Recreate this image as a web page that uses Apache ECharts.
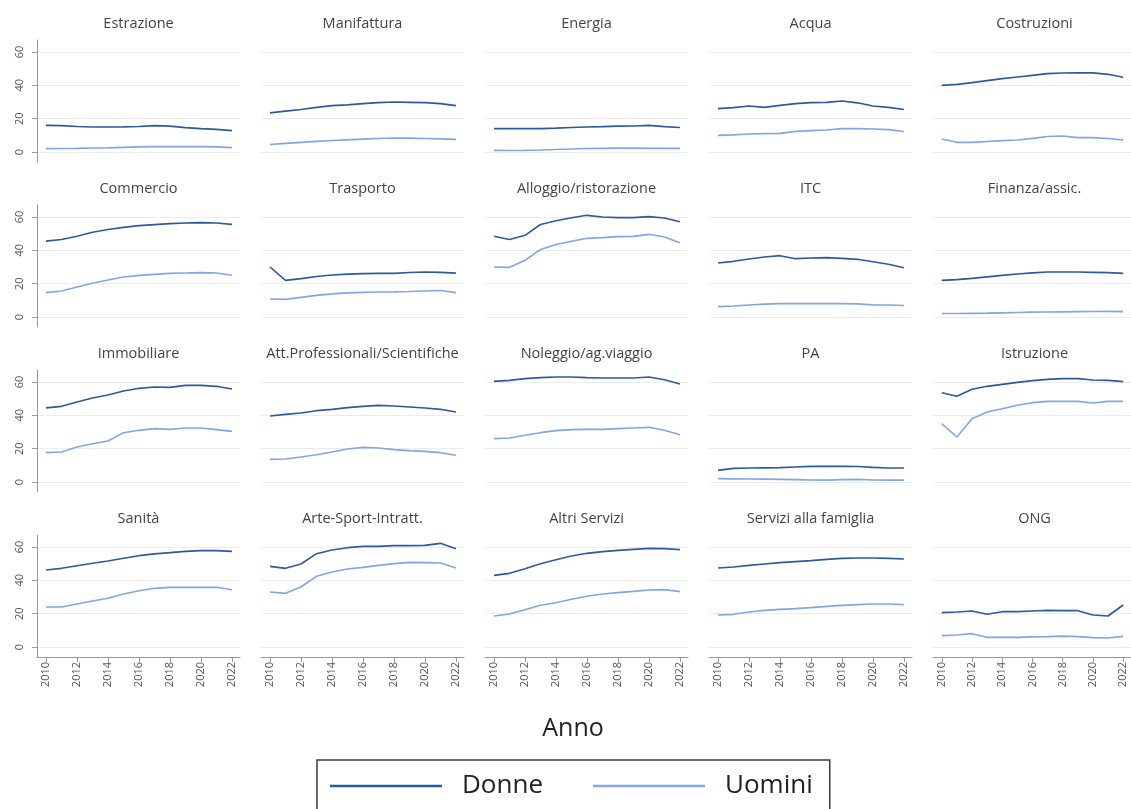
<!DOCTYPE html>
<html>
<head>
<meta charset="utf-8">
<script src="https://cdn.jsdelivr.net/npm/echarts@6/dist/echarts.min.js"></script>
<style>
  html, body { margin: 0; padding: 0; background: #ffffff; }
  #chart { width: 1131px; height: 809px; }
</style>
</head>
<body>
<div id="chart"></div>
<script>
// Years on the horizontal axis
const years = [2010, 2011, 2012, 2013, 2014, 2015, 2016, 2017, 2018, 2019, 2020, 2021, 2022];

// Sector panels, row by row
const sectors = [
  'Estrazione', 'Manifattura', 'Energia', 'Acqua', 'Costruzioni',
  'Commercio', 'Trasporto', 'Alloggio/ristorazione', 'ITC', 'Finanza/assic.',
  'Immobiliare', 'Att.Professionali/Scientifiche', 'Noleggio/ag.viaggio', 'PA', 'Istruzione',
  'Sanità', 'Arte-Sport-Intratt.', 'Altri Servizi', 'Servizi alla famiglia', 'ONG'
];

// Women, one row per sector (same order as sectors)
const donne = [
  [16, 15.8, 15.3, 15, 15, 15.1, 15.3, 15.8, 15.5, 14.6, 14, 13.6, 12.8],
  [23.5, 24.5, 25.5, 26.8, 27.8, 28.3, 29, 29.6, 30, 29.8, 29.6, 29, 27.8],
  [14, 14, 14, 14, 14.3, 14.7, 15, 15.2, 15.5, 15.6, 16, 15.2, 14.7],
  [26, 26.6, 27.6, 26.8, 28, 29, 29.6, 29.8, 30.6, 29.5, 27.6, 26.8, 25.5],
  [40, 40.6, 41.6, 42.8, 44, 45, 46, 47, 47.4, 47.5, 47.5, 46.6, 44.8],
  [45.5, 46.5, 48.5, 50.8, 52.5, 53.8, 54.8, 55.4, 56, 56.4, 56.6, 56.4, 55.6],
  [30, 22, 23, 24.3, 25.2, 25.7, 26, 26.2, 26.2, 26.7, 27, 26.8, 26.3],
  [48.5, 46.5, 49, 55.5, 57.8, 59.5, 61, 60, 59.6, 59.6, 60.2, 59.4, 57.2],
  [32.4, 33.4, 34.8, 36, 36.8, 35, 35.4, 35.6, 35.2, 34.6, 33.2, 31.6, 29.6],
  [22, 22.4, 23.2, 24.1, 25, 25.8, 26.5, 27, 27, 27, 26.8, 26.6, 26.2],
  [44.5, 45.4, 48, 50.4, 52.2, 54.6, 56.2, 57, 56.8, 58, 58, 57.4, 55.8],
  [39.6, 40.6, 41.4, 42.8, 43.6, 44.6, 45.4, 46, 45.6, 45, 44.4, 43.6, 42],
  [60.4, 61, 62, 62.6, 63, 63, 62.6, 62.4, 62.4, 62.4, 63, 61.4, 58.8],
  [7, 8.2, 8.4, 8.5, 8.6, 9, 9.4, 9.4, 9.4, 9.3, 8.8, 8.4, 8.4],
  [53.6, 51.4, 55.6, 57.4, 58.6, 59.8, 60.8, 61.6, 62, 62, 61.2, 61, 60.2],
  [46.2, 47.2, 48.8, 50.2, 51.6, 53.2, 54.8, 55.9, 56.6, 57.4, 57.8, 57.8, 57.4],
  [48.4, 47.2, 49.8, 56, 58.2, 59.6, 60.4, 60.4, 60.8, 60.8, 61, 62.2, 59],
  [43, 44.2, 47, 50, 52.4, 54.6, 56.2, 57.2, 58, 58.6, 59.2, 59, 58.4],
  [47.4, 48, 49, 49.8, 50.6, 51.2, 51.8, 52.6, 53.2, 53.4, 53.4, 53.2, 52.8],
  [20.6, 21, 21.6, 19.6, 21.2, 21.2, 21.6, 22, 21.8, 21.8, 19.2, 18.6, 25.2]
];

// Men, one row per sector (same order as sectors)
const uomini = [
  [2, 2.1, 2.2, 2.4, 2.5, 2.8, 3.1, 3.2, 3.3, 3.2, 3.2, 3.1, 2.6],
  [4.5, 5.2, 5.8, 6.4, 6.9, 7.3, 7.7, 8.1, 8.4, 8.3, 8.1, 7.9, 7.6],
  [1, 0.9, 1, 1.2, 1.5, 1.8, 2.1, 2.2, 2.3, 2.3, 2.2, 2.2, 2.2],
  [10, 10.3, 10.8, 11, 11.2, 12.4, 12.8, 13.2, 14, 14, 13.8, 13.4, 12.3],
  [7.8, 5.8, 5.8, 6.3, 6.8, 7.2, 8.2, 9.3, 9.6, 8.6, 8.6, 8.1, 7.2],
  [14.6, 15.6, 18, 20.2, 22.2, 24, 25, 25.6, 26.2, 26.4, 26.6, 26.4, 25],
  [10.8, 10.6, 11.8, 13, 13.9, 14.5, 14.8, 15, 15.1, 15.3, 15.6, 15.9, 14.6],
  [30, 29.8, 34, 40.5, 43.5, 45.5, 47.2, 47.6, 48.2, 48.4, 49.6, 48, 44.6],
  [6.2, 6.6, 7.2, 7.7, 8, 8, 8, 8, 8, 7.9, 7.3, 7.2, 6.9],
  [2.1, 2.1, 2.2, 2.3, 2.5, 2.7, 2.9, 3, 3.1, 3.2, 3.3, 3.4, 3.2],
  [17.6, 18, 21, 23, 24.6, 29.6, 31, 32, 31.6, 32.4, 32.4, 31.4, 30.4],
  [13.6, 13.8, 15, 16.4, 18, 19.8, 20.8, 20.4, 19.4, 18.8, 18.4, 17.6, 16],
  [26, 26.4, 28, 29.6, 30.8, 31.4, 31.6, 31.6, 32, 32.4, 32.8, 31, 28.4],
  [2, 1.9, 1.8, 1.7, 1.6, 1.4, 1.2, 1.1, 1.4, 1.6, 1.2, 1.1, 1.1],
  [35, 27, 38, 42, 44, 46, 47.6, 48.4, 48.4, 48.4, 47.4, 48.4, 48.4],
  [24, 24, 25.8, 27.6, 29.2, 31.8, 33.8, 35.2, 35.8, 35.8, 35.8, 35.8, 34.4],
  [33, 32.2, 36, 42.4, 45, 46.8, 47.8, 49, 50, 50.8, 50.6, 50.4, 47.4],
  [18.6, 19.8, 22.4, 25, 26.6, 28.6, 30.4, 31.8, 32.6, 33.4, 34.2, 34.4, 33.2],
  [19.2, 19.6, 21, 22, 22.6, 23, 23.6, 24.4, 25, 25.4, 25.8, 25.8, 25.4],
  [6.8, 7.2, 8, 5.8, 5.8, 5.8, 6.1, 6.2, 6.5, 6.2, 5.6, 5.4, 6.4]
];

// Tick positions and legend entries
const yTicks = [0, 20, 40, 60];
const xTicks = [2010, 2012, 2014, 2016, 2018, 2020, 2022];
const seriesNames = ['Donne', 'Uomini'];
const seriesColors = ['#2c5aa0', '#7fa6e6'];
const xAxisTitle = 'Anno';

const FONT = '"Open Sans", "DejaVu Sans", sans-serif';
const COLS = 5, ROWS = 4;
const PANEL_W = 203, PANEL_H = 122;
const AXIS_GRAY = '#9a9a9a';
const LABEL_GRAY = '#555555';

const grids = [], xAxes = [], yAxes = [], series = [], titles = [];

sectors.forEach((name, i) => {
  const r = Math.floor(i / COLS);
  const c = i % COLS;
  const left = 37 + 224 * c;
  const top = 40 + 165 * r;
  const bottomRow = r === ROWS - 1;
  const firstCol = c === 0;

  grids.push({ left: left, top: top, width: PANEL_W, height: PANEL_H });

  xAxes.push({
    type: 'value', gridIndex: i, min: 2009.42, max: 2022.52,
    axisLine: { show: bottomRow, onZero: false, lineStyle: { color: AXIS_GRAY, width: 1 } },
    axisTick: { show: bottomRow, customValues: xTicks, length: 5, lineStyle: { color: AXIS_GRAY } },
    axisLabel: {
      show: bottomRow, customValues: xTicks, rotate: 90, margin: 5,
      fontSize: 11, color: LABEL_GRAY, fontFamily: FONT,
      formatter: (v) => String(Math.round(v))
    },
    splitLine: { show: false }
  });

  yAxes.push({
    type: 'value', gridIndex: i, min: -6, max: 67.2,
    axisLine: { show: firstCol, onZero: false, lineStyle: { color: AXIS_GRAY, width: 1 } },
    axisTick: { show: firstCol, customValues: yTicks, length: 5, lineStyle: { color: AXIS_GRAY } },
    axisLabel: {
      show: firstCol, customValues: yTicks, rotate: 90, margin: 12,
      fontSize: 11, color: LABEL_GRAY, fontFamily: FONT
    },
    splitLine: { show: true, lineStyle: { color: '#ececec', width: 1 } }
  });

  titles.push({
    text: name,
    left: left + PANEL_W / 2,
    top: top - 24,
    textAlign: 'center',
    padding: 0,
    textStyle: { fontSize: 14.5, fontWeight: 'normal', color: '#444444', fontFamily: FONT }
  });

  [uomini, donne].forEach((values, k) => {
    const idx = k === 0 ? 1 : 0;
    series.push({
      name: seriesNames[idx],
      type: 'line',
      xAxisIndex: i,
      yAxisIndex: i,
      symbol: 'none',
      silent: true,
      animation: false,
      color: seriesColors[idx],
      lineStyle: { width: 1.6, color: seriesColors[idx] },
      data: years.map((y, j) => [y, values[i][j]])
    });
  });
});

titles.push({
  text: xAxisTitle,
  left: 573,
  top: 716,
  textAlign: 'center',
  padding: 0,
  textStyle: { fontSize: 25, fontWeight: 'normal', color: '#222222', fontFamily: FONT }
});

const chart = echarts.init(document.getElementById('chart'), null, { renderer: 'canvas' });
chart.setOption({
  backgroundColor: '#ffffff',
  animation: false,
  title: titles,
  grid: grids,
  xAxis: xAxes,
  yAxis: yAxes,
  legend: {
    data: seriesNames,
    left: 317,
    top: 760,
    orient: 'horizontal',
    padding: [13, 17, 13, 13],
    icon: 'rect',
    itemWidth: 112,
    itemHeight: 2.5,
    itemGap: 50,
    borderColor: '#3a3a3a',
    borderWidth: 1.5,
    selectedMode: false,
    textStyle: { fontSize: 26, color: '#222222', fontFamily: FONT, padding: [0, 0, 0, 15] }
  },
  series: series
});
</script>
</body>
</html>
